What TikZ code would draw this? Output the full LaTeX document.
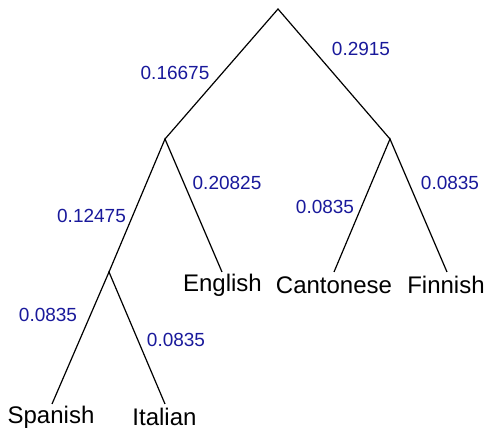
\documentclass[tikz,border=0pt]{standalone}
\usepackage{fontspec}
\setmainfont{Liberation Sans}
\definecolor{numblue}{RGB}{25,25,155}
\begin{document}
\begin{tikzpicture}[x=1pt,y=-1pt,
  branch/.style={line width=1.2pt,black},
  leaf/.style={anchor=base,inner sep=0pt,font=\fontsize{24}{24}\selectfont},
  weight/.style={anchor=base,inner sep=0pt,text=numblue,font=\fontsize{19}{19}\selectfont}]
\useasboundingbox (0,0) rectangle (488,430);
% internal nodes
\coordinate (root) at (278,9);
\coordinate (L) at (165,139);
\coordinate (R) at (390,139);
\coordinate (LL) at (109,272);
% leaf line ends
\coordinate (eng) at (222,272);
\coordinate (can) at (334,272);
\coordinate (fin) at (447,272);
\coordinate (spa) at (52,404);
\coordinate (ita) at (165,404);
% branches
\draw[branch] (L) -- (root) -- (R);
\draw[branch] (LL) -- (L) -- (eng);
\draw[branch] (can) -- (R) -- (fin);
\draw[branch] (spa) -- (LL) -- (ita);
% leaf labels
\node[leaf] (tEng) at (222.5,292) {English};
\node[leaf] (tCan) at (334,294) {Cantonese};
\node[leaf] (tFin) at (446,294) {Finnish};
\node[leaf] (tSpa) at (51,424) {Spanish};
\node[leaf] (tIta) at (164.5,426) {Italian};
% weights
\node[weight] (w1) at (175,80) {0.16675};
\node[weight] (w2) at (361,56) {0.2915};
\node[weight] (w3) at (91.5,223) {0.12475};
\node[weight] (w4) at (227,190) {0.20825};
\node[weight] (w5) at (325,214) {0.0835};
\node[weight] (w6) at (450,190) {0.0835};
\node[weight] (w7) at (48,322) {0.0835};
\node[weight] (w8) at (176,347) {0.0835};
\end{tikzpicture}
\end{document}
